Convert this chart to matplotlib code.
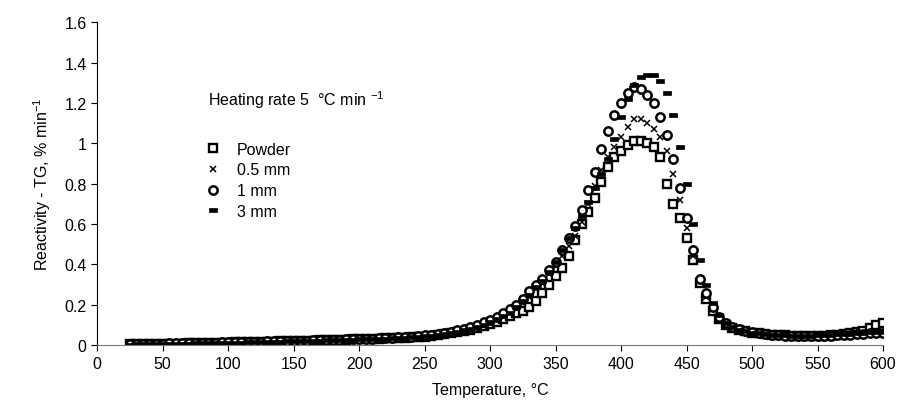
import numpy as np
import matplotlib
matplotlib.use("Agg")
import matplotlib.pyplot as plt

plt.rcParams['font.family'] = ['Liberation Sans', 'DejaVu Sans']
plt.rcParams['mathtext.default'] = 'regular'

# temperature grid, deg C
temp = [25, 30, 35, 40, 45, 50, 55, 60, 65, 70,
        75, 80, 85, 90, 95, 100, 105, 110, 115, 120,
        125, 130, 135, 140, 145, 150, 155, 160, 165, 170,
        175, 180, 185, 190, 195, 200, 205, 210, 215, 220,
        225, 230, 235, 240, 245, 250, 255, 260, 265, 270,
        275, 280, 285, 290, 295, 300, 305, 310, 315, 320,
        325, 330, 335, 340, 345, 350, 355, 360, 365, 370,
        375, 380, 385, 390, 395, 400, 405, 410, 415, 420,
        425, 430, 435, 440, 445, 450, 455, 460, 465, 470,
        475, 480, 485, 490, 495, 500, 505, 510, 515, 520,
        525, 530, 535, 540, 545, 550, 555, 560, 565, 570,
        575, 580, 585, 590, 595, 600]

powder = [.003, .004, .004, .005, .005, .006, .006, .007, .007, .008,
          .009, .009, .010, .011, .011, .012, .013, .013, .014, .015,
          .016, .016, .017, .018, .019, .020, .020, .021, .022, .023,
          .024, .025, .026, .027, .028, .029, .030, .031, .032, .033,
          .034, .035, .037, .038, .040, .042, .045, .049, .053, .058,
          .064, .070, .077, .085, .094, .104, .116, .130, .146, .160,
          .17, .19, .22, .26, .30, .34, .38, .44, .52, .60,
          .66, .73, .81, .88, .93, .96, .99, 1.01, 1.01, 1.00,
          .98, .93, .80, .70, .63, .53, .42, .31, .23, .17,
          .13, .10, .085, .075, .068, .062, .058, .055, .052, .050,
          .048, .046, .045, .045, .045, .046, .047, .049, .052, .055,
          .059, .064, .072, .085, .100, .110]

mm05 = [.004, .004, .005, .005, .006, .006, .007, .007, .008, .008,
        .009, .010, .010, .011, .012, .012, .013, .014, .014, .015,
        .016, .017, .017, .018, .019, .020, .021, .021, .022, .023,
        .024, .025, .026, .027, .028, .029, .030, .031, .032, .034,
        .035, .036, .038, .040, .042, .045, .048, .052, .057, .062,
        .068, .075, .083, .092, .102, .114, .128, .144, .162, .185,
        .21, .24, .28, .31, .35, .39, .44, .49, .54, .61,
        .70, .79, .87, .93, .98, 1.03, 1.08, 1.12, 1.12, 1.10,
        1.07, 1.03, .96, .85, .72, .58, .44, .32, .24, .18,
        .13, .10, .085, .073, .066, .060, .057, .054, .051, .049,
        .047, .046, .045, .045, .046, .047, .048, .050, .052, .054,
        .056, .058, .060, .062, .064, .065]

mm1 = [.005, .005, .006, .006, .007, .007, .008, .008, .009, .009,
       .010, .011, .011, .012, .013, .013, .014, .015, .015, .016,
       .017, .018, .018, .019, .020, .021, .022, .022, .023, .024,
       .025, .026, .027, .028, .029, .030, .031, .032, .034, .035,
       .036, .038, .040, .042, .045, .048, .052, .056, .061, .067,
       .074, .082, .091, .101, .113, .126, .141, .158, .177, .200,
       .23, .27, .30, .33, .37, .41, .47, .53, .59, .67,
       .77, .86, .97, 1.06, 1.14, 1.20, 1.25, 1.28, 1.27, 1.24,
       1.20, 1.13, 1.04, .92, .78, .63, .47, .33, .26, .19,
       .14, .11, .09, .078, .070, .064, .060, .056, .052, .049,
       .047, .045, .044, .043, .043, .044, .045, .046, .048, .050,
       .052, .054, .056, .058, .060, .062]

mm3 = [.002, .003, .003, .004, .004, .005, .005, .006, .006, .007,
       .008, .008, .009, .010, .010, .011, .012, .012, .013, .014,
       .015, .015, .016, .017, .018, .019, .019, .020, .021, .022,
       .023, .024, .025, .026, .027, .028, .029, .030, .031, .032,
       .033, .035, .037, .039, .041, .044, .047, .051, .056, .061,
       .067, .074, .082, .091, .101, .113, .127, .143, .161, .190,
       .22, .25, .29, .32, .36, .41, .47, .53, .58, .64,
       .71, .78, .85, .92, 1.02, 1.13, 1.22, 1.29, 1.33, 1.34,
       1.34, 1.31, 1.25, 1.14, .98, .80, .60, .42, .30, .21,
       .15, .11, .09, .075, .068, .062, .058, .055, .052, .050,
       .048, .047, .046, .046, .047, .048, .049, .051, .053, .055,
       .057, .059, .061, .063, .065, .066]

dash = [(-1, -0.45), (1, -0.45), (1, 0.45), (-1, 0.45), (-1, -0.45)]

fig = plt.figure(figsize=(9.16, 4.14), dpi=100)
ax = fig.add_axes([0.106, 0.164, 0.858, 0.78])

ax.plot(temp, powder, ls='none', marker='s', ms=5.5, mfc='white', mec='black',
        mew=1.7, label='Powder')
ax.plot(temp, mm05, ls='none', marker='x', ms=5, mec='black', mew=1.1,
        label='0.5 mm')
ax.plot(temp, mm1, ls='none', marker='o', ms=6, mfc='white', mec='black',
        mew=1.8, label='1 mm')
ax.plot(temp, mm3, ls='none', marker=dash, ms=6, mfc='black', mec='black',
        mew=0.5, label='3 mm')

ax.set_xlim(0, 600)
ax.set_ylim(0, 1.6)
ax.set_xticks(np.arange(0, 601, 50))
ax.set_yticks([0, 0.2, 0.4, 0.6, 0.8, 1, 1.2, 1.4, 1.6])
ax.set_yticklabels(['0', '0.2', '0.4', '0.6', '0.8', '1', '1.2', '1.4', '1.6'])
ax.tick_params(labelsize=11.5, direction='out', length=4, width=0.8)
ax.spines['top'].set_visible(False)
ax.spines['right'].set_visible(False)
ax.spines['bottom'].set_color('#777777')
ax.spines['left'].set_linewidth(0.8)

ax.set_xlabel('Temperature, °C', fontsize=11.5, labelpad=8)
ax.set_ylabel('Reactivity - TG, % min$^{-1}$', fontsize=11.5, labelpad=8)

ax.text(85, 1.22, 'Heating rate 5  °C min $^{-1}$', fontsize=11.5,
        va='center', ha='left')

leg = ax.legend(loc='upper left', bbox_to_anchor=(0.135, 0.63), frameon=False,
                fontsize=11.5, handlelength=1.2, handletextpad=0.9,
                labelspacing=0.36, borderpad=0, borderaxespad=0)

fig.savefig('out.png', dpi=100)
